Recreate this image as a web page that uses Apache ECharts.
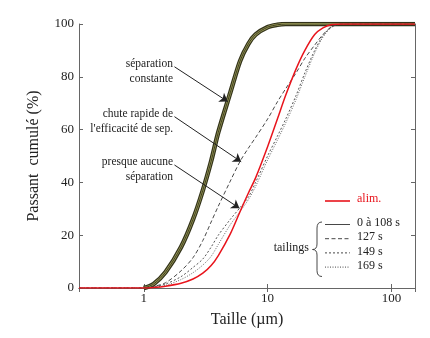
<!DOCTYPE html>
<html><head><meta charset="utf-8">
<script src="https://cdn.jsdelivr.net/npm/echarts@6/dist/echarts.min.js"></script>
<style>html,body{margin:0;padding:0;background:#fff}#c{width:430px;height:338px}</style>
</head><body><div id="c"></div>
<script>
const sizes   = [0.3, 1, 1.2, 1.5, 2, 2.5, 3, 3.5, 4, 5, 6, 7, 8, 10, 12, 14, 17, 20, 24, 28, 33, 40, 155];
const sep0to108 = [null, 0, 1.5, 6, 15.5, 26, 37, 48, 59, 74, 86, 92.5, 96, 98.8, 99.7, 100, 100, 100, 100, 100, 100, 100, 100];
const alim      = [0, 0, 0.2, 0.7, 1.8, 3.4, 5.6, 8.5, 12.3, 20.5, 29, 36, 41.7, 53.5, 64, 73, 83, 90, 96, 98.5, 99.8, 100, 100];
const t127      = [0, 0, 0.6, 2, 6.5, 11.5, 18, 25, 31, 40.5, 48, 53, 57, 64, 70.5, 75.5, 81.5, 87, 92, 96, 99, 100, 100];
const t149      = [0, 0, 0.4, 1.5, 4.3, 7.8, 11, 15.5, 20, 26, 30.5, 34.5, 40, 50, 57.5, 64, 73, 81.5, 90, 95.5, 99, 100, 100];
const t169      = [0, 0, 0.3, 1, 3.2, 5.8, 8.7, 12, 16.5, 24, 29, 33.5, 38.5, 48.5, 56, 62.5, 71.5, 80, 89, 95, 98.8, 100, 100];
const xTickLabels = ['1', '10', '100'];
const annotations = [
  {lines: ['séparation', 'constante'], from: [1.77, 83.8], to: [4.77, 70.6]},
  {lines: ['chute rapide de', "l'efficacité de sep."], from: [1.77, 64.9], to: [6.12, 47.8]},
  {lines: ['presque aucune', 'séparation'], from: [1.77, 46.6], to: [5.93, 30.2]}
];
const legendItems = [
  {name: '0 à 108 s', dash: 'solid'},
  {name: '127 s', dash: [4, 2.5]},
  {name: '149 s', dash: [2, 2]},
  {name: '169 s', dash: [1, 1.5]}
];

const FONT = '"Liberation Serif", "DejaVu Serif", serif';
const pair = arr => sizes.map((s, i) => [s, arr[i]]);
const chart = echarts.init(document.getElementById('c'), null, {renderer: 'canvas'});

const axisCommon = {
  axisLine: {show: true, lineStyle: {color: '#666', width: 1}},
  axisTick: {show: true, inside: true, length: 4, lineStyle: {color: '#666'}},
  splitLine: {show: false}
};

function lineSeries(data, color, width, type, z) {
  return {type: 'line', data: pair(data), showSymbol: false, symbol: 'none', smooth: 0.3,
    connectNulls: false,
    lineStyle: {color: color, width: width, type: type}, z: z, silent: true, animation: false};
}

const series = [
  lineSeries(sep0to108, '#33331a', 4.6, 'solid', 2),
  lineSeries(sep0to108, '#9c9c5a', 2.2, 'solid', 3),
  lineSeries(sep0to108, '#2a2a12', 0.8, 'solid', 4),
  lineSeries(t127, '#333', 0.9, [4, 2.5], 5),
  lineSeries(t149, '#444', 0.9, [2, 2], 5),
  lineSeries(t169, '#555', 0.9, [1, 1.5], 5),
  lineSeries(alim, '#e8141c', 1.5, 'solid', 6)
];
series[6].markLine = {
  silent: true, animation: false, symbol: ['none', 'arrow'], symbolSize: 8,
  label: {show: false},
  lineStyle: {color: '#222', width: 1, type: 'solid'},
  data: annotations.map(a => [{coord: a.from}, {coord: a.to}])
};

const graphics = [];
annotations.forEach((a, k) => {
  const yPix = [56, 106, 154][k];
  graphics.push({type: 'text', x: 173, y: yPix,
    style: {text: a.lines.join('\n'), font: '11.5px ' + FONT, fill: '#222', align: 'right', lineHeight: 15.5}});
});
graphics.push({type: 'line', shape: {x1: 325, y1: 201, x2: 350, y2: 201}, style: {stroke: '#e8141c', lineWidth: 1.6}});
graphics.push({type: 'text', x: 357, y: 193, style: {text: 'alim.', font: '12px ' + FONT, fill: '#e8141c'}});
legendItems.forEach((it, i) => {
  const y = 224.5 + i * 14.2;
  graphics.push({type: 'line', shape: {x1: 325, y1: y, x2: 350, y2: y},
    style: {stroke: '#333', lineWidth: 0.9, lineDash: it.dash === 'solid' ? null : it.dash}});
  graphics.push({type: 'text', x: 357, y: y - 7.5, style: {text: it.name, font: '12px ' + FONT, fill: '#222'}});
});
graphics.push({type: 'text', x: 309, y: 242, style: {text: 'tailings', font: '12px ' + FONT, fill: '#222', align: 'right'}});
const braceStyle = {stroke: '#333', lineWidth: 0.9, fill: null};
graphics.push({type: 'bezierCurve', shape: {x1: 322, y1: 222, cpx1: 317, cpy1: 222, x2: 317, y2: 228}, style: braceStyle});
graphics.push({type: 'line', shape: {x1: 317, y1: 228, x2: 317, y2: 244}, style: braceStyle});
graphics.push({type: 'bezierCurve', shape: {x1: 317, y1: 244, cpx1: 317, cpy1: 249.5, x2: 312.5, y2: 249.5}, style: braceStyle});
graphics.push({type: 'bezierCurve', shape: {x1: 312.5, y1: 249.5, cpx1: 317, cpy1: 249.5, x2: 317, y2: 255}, style: braceStyle});
graphics.push({type: 'line', shape: {x1: 317, y1: 255, x2: 317, y2: 270.5}, style: braceStyle});
graphics.push({type: 'bezierCurve', shape: {x1: 317, y1: 270.5, cpx1: 317, cpy1: 276.5, x2: 322, y2: 276.5}, style: braceStyle});

chart.setOption({
  animation: false,
  backgroundColor: '#fff',
  grid: {left: 79, right: 15, top: 24, bottom: 50, containLabel: false},
  xAxis: [
    Object.assign({type: 'log', logBase: 10, min: 0.3, max: 155, position: 'bottom',
      name: 'Taille (µm)', nameLocation: 'middle', nameGap: 24,
      nameTextStyle: {fontFamily: FONT, fontSize: 16, color: '#222'},
      axisLabel: {show: true, fontFamily: FONT, fontSize: 13, color: '#222', margin: 4,
        showMinLabel: false, showMaxLabel: false,
        formatter: v => { const s = String(Math.round(v)); return xTickLabels.includes(s) ? s : ''; }}
    }, axisCommon),
    Object.assign({type: 'log', logBase: 10, min: 0.3, max: 155, position: 'top', axisLabel: {show: false}}, axisCommon)
  ],
  yAxis: [
    Object.assign({type: 'value', min: 0, max: 100, interval: 20, position: 'left',
      name: 'Passant  cumulé (%)', nameLocation: 'middle', nameGap: 37,
      nameTextStyle: {fontFamily: FONT, fontSize: 16, color: '#222'},
      axisLabel: {fontFamily: FONT, fontSize: 13, color: '#222', margin: 5}
    }, axisCommon),
    Object.assign({type: 'value', min: 0, max: 100, interval: 20, position: 'right', axisLabel: {show: false}}, axisCommon)
  ],
  series: series,
  graphic: graphics
});
</script></body></html>
